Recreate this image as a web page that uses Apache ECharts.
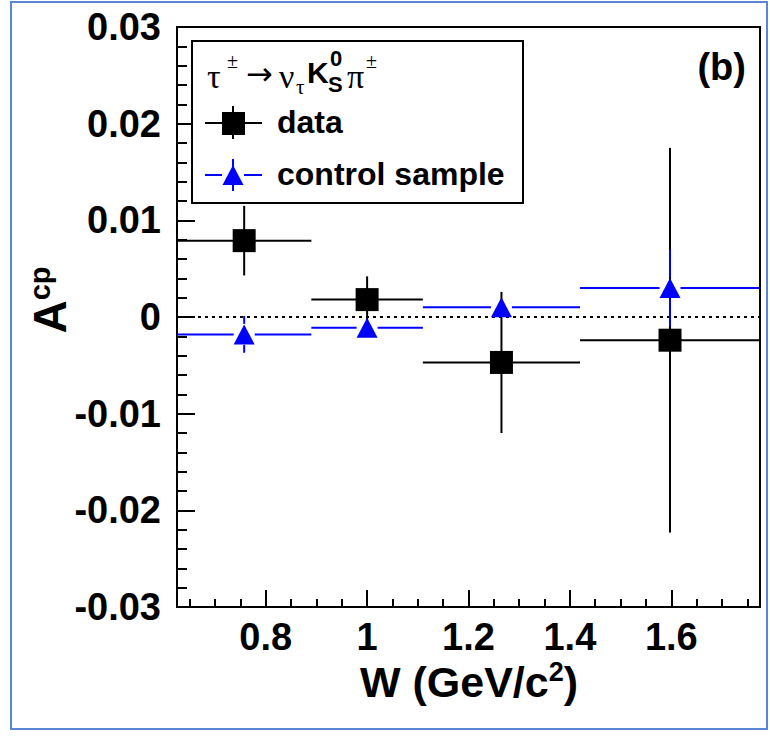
<!DOCTYPE html>
<html><head><meta charset="utf-8">
<script src="https://cdn.jsdelivr.net/npm/echarts@6/dist/echarts.min.js"></script>
<style>html,body{margin:0;padding:0;background:#fff}#c{width:770px;height:739px}</style>
</head><body><div id="c"></div>
<script>
// ---- data ----
const binLo = [0.625, 0.89, 1.11, 1.42];
const binHi = [0.89, 1.11, 1.42, 1.775];
const binCenter = [0.7575, 1.0, 1.265, 1.5975];
const dataA = [0.0079, 0.0018, -0.0047, -0.0024];
const dataErr = [0.0036, 0.0024, 0.0073, 0.0199];
const ctrlA = [-0.0018, -0.0011, 0.0010, 0.0030];
const ctrlErr = [0.0019, 0.0008, 0.0008, 0.0040];
const xMin = 0.625, xMax = 1.775;
const yMin = -0.03, yMax = 0.03, yStep = 0.01;
const xMajorTicks = [0.8, 1.0, 1.2, 1.4, 1.6];
const xMinorTicks = [0.65, 0.7, 0.75, 0.85, 0.9, 0.95, 1.05, 1.1, 1.15, 1.25, 1.3, 1.35, 1.45, 1.5, 1.55, 1.65, 1.7, 1.75];

const FONT = 'Liberation Sans, Arial, Helvetica, sans-serif';
const SERIF = 'Liberation Serif, Times New Roman, serif';
const ARROW = 'DejaVu Sans, sans-serif';
const BLUE = '#0000ff';

function errBars(name, ys, errs, color, gap, z) {
  return {
    type: 'custom', name: name, z: z, silent: true, clip: false,
    data: binCenter.map((x, i) => [x, ys[i], errs[i], binLo[i], binHi[i]]),
    encode: { x: 0, y: 1 },
    renderItem: function (params, api) {
      const x = api.value(0), y = api.value(1), e = api.value(2), lo = api.value(3), hi = api.value(4);
      const c = api.coord([x, y]), l = api.coord([lo, y]), h = api.coord([hi, y]);
      const t = api.coord([x, y + e]), b = api.coord([x, y - e]);
      const st = { stroke: color, lineWidth: 2, fill: null };
      const g = gap / 2;
      const ch = [];
      const seg = (x1, y1, x2, y2) => ch.push({ type: 'line', shape: { x1, y1, x2, y2 }, style: st });
      seg(l[0], c[1], c[0] - g, c[1]);
      seg(c[0] + g, c[1], h[0], c[1]);
      if (t[1] < c[1] - g) seg(c[0], t[1], c[0], c[1] - g);
      if (b[1] > c[1] + g) seg(c[0], c[1] + g, c[0], b[1]);
      return { type: 'group', children: ch };
    }
  };
}

const chart = echarts.init(document.getElementById('c'), null, { renderer: 'svg' });
chart.setOption({
  animation: false,
  backgroundColor: '#fff',
  grid: { left: 177, right: 10, top: 27, bottom: 132, show: true, borderColor: '#000', borderWidth: 2, backgroundColor: 'transparent' },
  xAxis: [{
    type: 'value', min: xMin, max: xMax, position: 'bottom',
    axisLine: { show: true, onZero: false, lineStyle: { color: '#000', width: 2 } },
    axisTick: { show: true, inside: true, length: 8, customValues: xMinorTicks, lineStyle: { color: '#000', width: 2 } },
    axisLabel: { show: true, customValues: xMajorTicks, margin: 11, color: '#000', fontSize: 38, fontWeight: 'bold', fontFamily: FONT,
      formatter: v => String(Math.round(v * 10) / 10) },
    splitLine: { show: false }
  }, {
    type: 'value', min: xMin, max: xMax, position: 'bottom',
    axisLine: { show: false, onZero: false },
    axisTick: { show: true, inside: true, length: 17, customValues: xMajorTicks, lineStyle: { color: '#000', width: 2 } },
    axisLabel: { show: false },
    splitLine: { show: false }
  }],
  yAxis: {
    type: 'value', min: yMin, max: yMax, interval: yStep,
    axisLine: { show: true, onZero: false, lineStyle: { color: '#000', width: 2 } },
    axisTick: { show: true, inside: true, length: 18, lineStyle: { color: '#000', width: 2 } },
    minorTick: { show: true, splitNumber: 5, length: 10, lineStyle: { color: '#000', width: 2 } },
    axisLabel: { margin: 16, color: '#000', fontSize: 38, fontWeight: 'bold', fontFamily: FONT,
      formatter: v => { const r = Math.round(v * 100) / 100; return r === 0 ? '0' : String(r); } },
    splitLine: { show: false }
  },
  series: [
    { type: 'line', name: 'zero', data: [[xMin, 0], [xMax, 0]], symbol: 'none', silent: true, z: 1,
      lineStyle: { color: '#000', width: 2, type: [3, 4] } },
    errBars('data bars', dataA, dataErr, '#000', 0, 2),
    errBars('control bars', ctrlA, ctrlErr, BLUE, 21, 3),
    { type: 'scatter', name: 'control sample', data: binCenter.map((x, i) => [x, ctrlA[i]]), symbol: 'triangle', symbolSize: [21, 20],
      itemStyle: { color: BLUE, opacity: 1 }, z: 4, silent: true },
    { type: 'scatter', name: 'data', data: binCenter.map((x, i) => [x, dataA[i]]), symbol: 'rect', symbolSize: 23,
      itemStyle: { color: '#000', opacity: 1 }, z: 5, silent: true }
  ],
  graphic: [
    { type: 'rect', z: 100, shape: { x: 11, y: 2, width: 756, height: 727 }, style: { fill: null, stroke: '#5b86d6', lineWidth: 2 } },
    // legend box
    { type: 'rect', z: 100, shape: { x: 192, y: 41, width: 331, height: 162 }, style: { fill: '#fff', stroke: '#000', lineWidth: 2 } },
    { type: 'text', z: 101, x: 207, y: 76, style: { text: 'τ', font: '34px ' + SERIF, fill: '#000', textVerticalAlign: 'middle' } },
    { type: 'text', z: 101, x: 227, y: 61, style: { text: '±', font: '20px ' + SERIF, fill: '#000', textVerticalAlign: 'middle' } },
    { type: 'text', z: 101, x: 246, y: 74, style: { text: '→', font: '32px ' + ARROW, fill: '#000', textVerticalAlign: 'middle' } },
    { type: 'text', z: 101, x: 279, y: 76, style: { text: 'ν', font: '34px ' + SERIF, fill: '#000', textVerticalAlign: 'middle' } },
    { type: 'text', z: 101, x: 296, y: 87, style: { text: 'τ', font: '21px ' + SERIF, fill: '#000', textVerticalAlign: 'middle' } },
    { type: 'text', z: 101, x: 307, y: 72, style: { text: 'K', font: 'bold 30px ' + FONT, fill: '#000', textVerticalAlign: 'middle' } },
    { type: 'text', z: 101, x: 328, y: 84, style: { text: 'S', font: 'bold 22px ' + FONT, fill: '#000', textVerticalAlign: 'middle' } },
    { type: 'text', z: 101, x: 330, y: 58, style: { text: '0', font: 'bold 22px ' + FONT, fill: '#000', textVerticalAlign: 'middle' } },
    { type: 'text', z: 101, x: 347, y: 76, style: { text: 'π', font: '34px ' + SERIF, fill: '#000', textVerticalAlign: 'middle' } },
    { type: 'text', z: 101, x: 366, y: 61, style: { text: '±', font: '20px ' + SERIF, fill: '#000', textVerticalAlign: 'middle' } },
    // data entry
    { type: 'line', z: 101, shape: { x1: 205, y1: 123, x2: 262, y2: 123 }, style: { stroke: '#000', lineWidth: 2 } },
    { type: 'line', z: 101, shape: { x1: 233, y1: 106, x2: 233, y2: 139 }, style: { stroke: '#000', lineWidth: 2 } },
    { type: 'rect', z: 102, shape: { x: 222, y: 112, width: 23, height: 23 }, style: { fill: '#000' } },
    { type: 'text', z: 101, x: 277, y: 122, style: { text: 'data', font: 'bold 32px ' + FONT, fill: '#000', textVerticalAlign: 'middle' } },
    // control entry
    { type: 'line', z: 101, shape: { x1: 205, y1: 175, x2: 222, y2: 175 }, style: { stroke: BLUE, lineWidth: 2 } },
    { type: 'line', z: 101, shape: { x1: 244, y1: 175, x2: 262, y2: 175 }, style: { stroke: BLUE, lineWidth: 2 } },
    { type: 'line', z: 101, shape: { x1: 233, y1: 159, x2: 233, y2: 191 }, style: { stroke: BLUE, lineWidth: 2 } },
    { type: 'polygon', z: 102, shape: { points: [[233, 165], [243.5, 185], [222.5, 185]] }, style: { fill: BLUE } },
    { type: 'text', z: 101, x: 277, y: 174, style: { text: 'control sample', font: 'bold 32px ' + FONT, fill: '#000', textVerticalAlign: 'middle' } },
    // panel tag
    { type: 'text', z: 101, x: 746, y: 67, style: { text: '(b)', font: 'bold 38px ' + FONT, fill: '#000', textAlign: 'right', textVerticalAlign: 'middle' } },
    // axis titles
    { type: 'text', z: 101, x: 50, y: 300, rotation: Math.PI / 2,
      style: { text: '{a|A}{s|cp}', textAlign: 'center', textVerticalAlign: 'middle', fill: '#000',
        rich: { a: { font: 'bold 46px ' + FONT, lineHeight: 50, fill: '#000' }, s: { font: 'bold 29px ' + FONT, lineHeight: 30, verticalAlign: 'top', fill: '#000' } } } },
    { type: 'text', z: 101, x: 469, y: 682,
      style: { text: '{a|W (GeV/c}{s|2}{a|)}', textAlign: 'center', textVerticalAlign: 'middle', fill: '#000',
        rich: { a: { font: 'bold 43px ' + FONT, lineHeight: 48, fill: '#000' }, s: { font: 'bold 27px ' + FONT, lineHeight: 28, verticalAlign: 'top', fill: '#000' } } } }
  ]
});
</script></body></html>
